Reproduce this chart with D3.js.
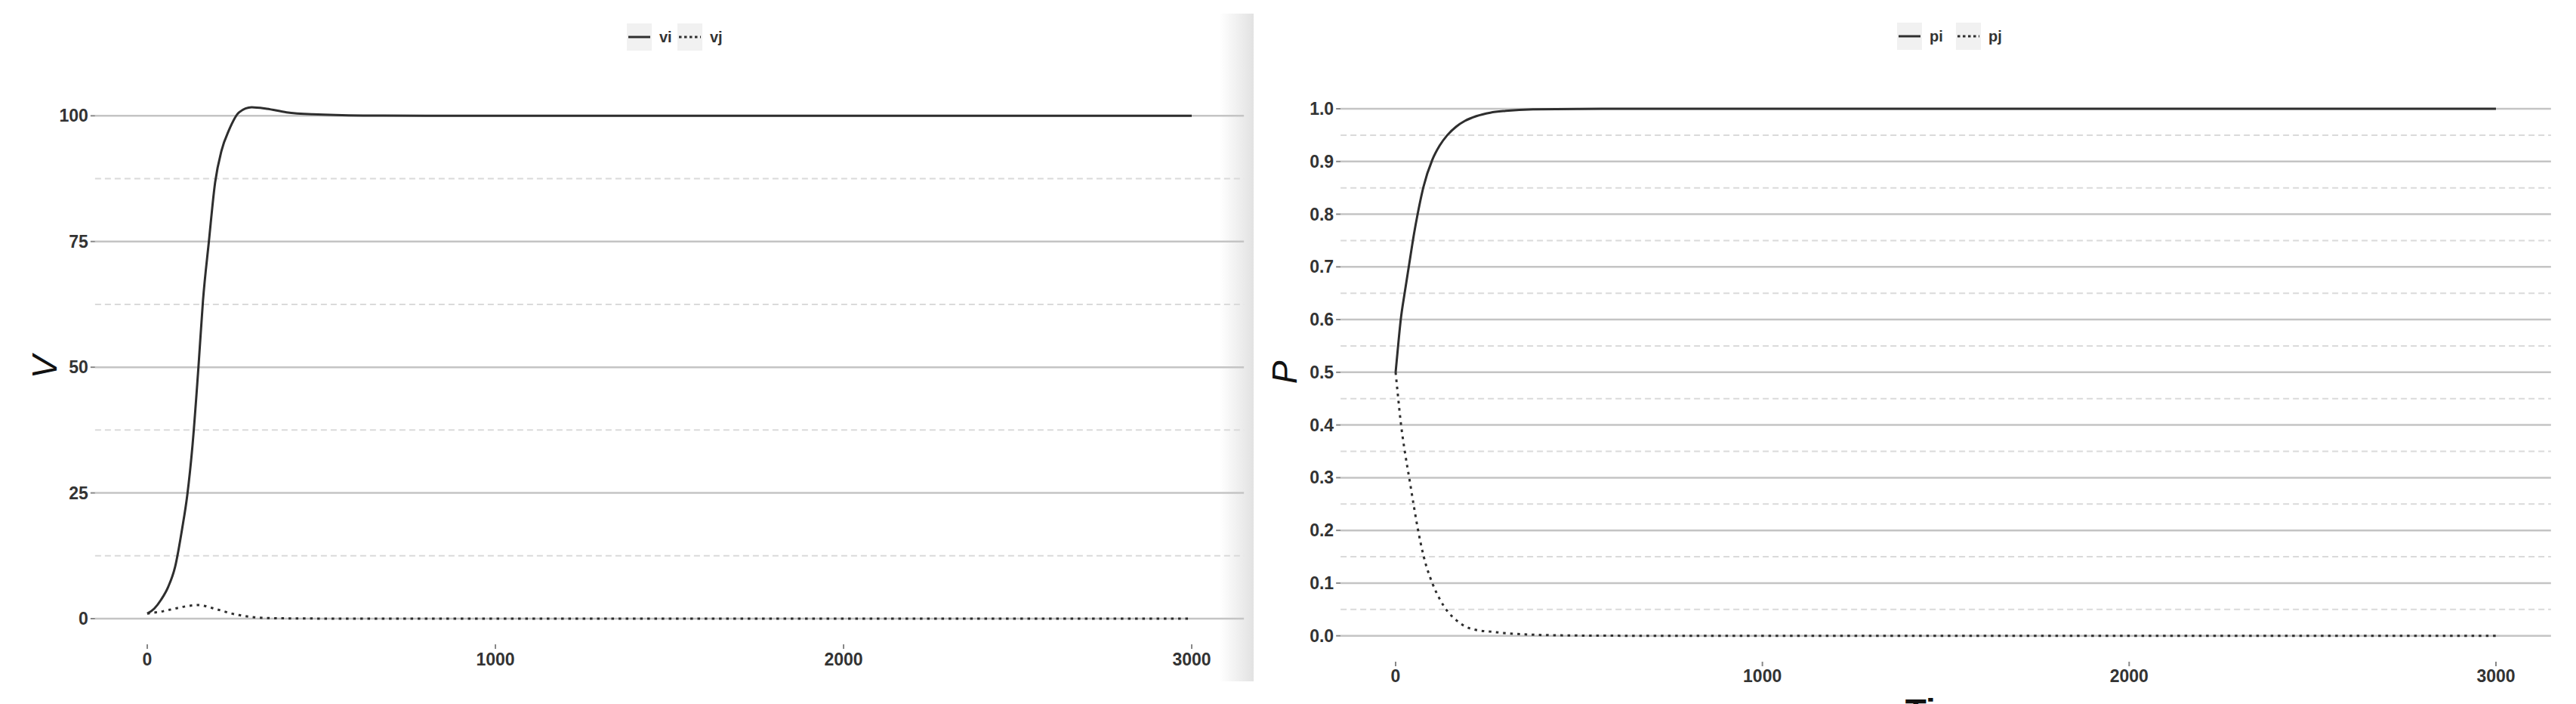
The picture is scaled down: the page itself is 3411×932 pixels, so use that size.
<!DOCTYPE html>
<html>
<head>
<meta charset="utf-8">
<script src="https://cdn.jsdelivr.net/npm/d3@7"></script>
<style>
  html, body { margin: 0; padding: 0; background: #ffffff; }
  svg { display: block; }
  .tick-label { font-family: "Liberation Sans Narrow", "Liberation Sans", Arial, sans-serif; font-weight: bold; font-size: 23px; fill: #333; }
  .axis-title { font-family: "Liberation Sans", Arial, sans-serif; font-style: italic; font-size: 46px; fill: #111; }
  .legend-label { font-family: "Liberation Sans Narrow", "Liberation Sans", Arial, sans-serif; font-weight: bold; font-size: 20px; fill: #333; }
</style>
</head>
<body>
<svg id="chart" width="3411" height="932"></svg>
<script>
// ---------------- DATA ----------------
// Left panel: V over time
const timeV = [0, 20, 40, 60, 80, 100, 115, 130, 147, 160, 177, 195, 213, 235, 264, 300, 343, 400, 475, 620, 800, 1000, 1500, 2000, 2500, 3000];
const vi    = [1, 2.0, 3.8, 6.3, 10.3, 17.8, 24.6, 34.5, 50, 63.2, 75, 86.8, 93, 97.2, 100.7, 101.7, 101.4, 100.7, 100.3, 100.05, 100, 100, 100, 100, 100, 100];
const vj    = [1, 1.2, 1.4, 1.7, 2.0, 2.3, 2.5, 2.62, 2.7, 2.6, 2.3, 1.95, 1.6, 1.15, 0.7, 0.32, 0.12, 0.05, 0.02, 0.005, 0, 0, 0, 0, 0, 0];
const vTicks = [0, 25, 50, 75, 100];
const vMinor = [12.5, 37.5, 62.5, 87.5];

// Right panel: P over time
const timeP = [0, 5, 14, 25, 37, 50, 60, 76, 100, 120, 141, 165, 189, 220, 258, 300, 375, 500, 700, 1000, 1500, 2000, 2500, 3000];
const pi    = [0.5, 0.537, 0.6, 0.652, 0.705, 0.762, 0.8, 0.852, 0.903, 0.93, 0.95, 0.966, 0.977, 0.986, 0.9925, 0.996, 0.999, 0.9998, 1, 1, 1, 1, 1, 1];
const pj    = [0.5, 0.465, 0.405, 0.35, 0.3, 0.245, 0.205, 0.152, 0.1, 0.07, 0.047, 0.03, 0.018, 0.011, 0.008, 0.005, 0.002, 0.0005, 0, 0, 0, 0, 0, 0];
const pTicks = [0, 0.1, 0.2, 0.3, 0.4, 0.5, 0.6, 0.7, 0.8, 0.9, 1.0];
const pMinor = [0.05, 0.15, 0.25, 0.35, 0.45, 0.55, 0.65, 0.75, 0.85, 0.95];

const timeTicks = [0, 1000, 2000, 3000];
const seriesV = ["vi", "vj"];
const seriesP = ["pi", "pj"];
const xTitle = "Time";

// ---------------- DRAW ----------------
const svg = d3.select("#chart");

// separator shading at the right edge of the left image
const defs = svg.append("defs");
const grad = defs.append("linearGradient").attr("id", "shade").attr("x1", "0%").attr("x2", "100%");
grad.append("stop").attr("offset", "0%").attr("stop-color", "#ffffff");
grad.append("stop").attr("offset", "100%").attr("stop-color", "#e2e2e2");
svg.append("rect").attr("x", 1615).attr("y", 18).attr("width", 45).attr("height", 884).attr("fill", "url(#shade)");

function panel(cfg) {
  const g = svg.append("g");
  const x = d3.scaleLinear().domain([-150, 3150]).range(cfg.xRange);
  const y = d3.scaleLinear().domain(cfg.yDomain).range(cfg.yRange);
  const [xl, xr] = cfg.xRange;

  // minor gridlines
  g.selectAll(".minor").data(cfg.minor).join("line")
    .attr("x1", xl).attr("x2", xr)
    .attr("y1", d => y(d)).attr("y2", d => y(d))
    .attr("stroke", "#dadada").attr("stroke-width", 2).attr("stroke-dasharray", "8,5");

  // major gridlines
  g.selectAll(".major").data(cfg.ticks).join("line")
    .attr("x1", xl).attr("x2", xr)
    .attr("y1", d => y(d)).attr("y2", d => y(d))
    .attr("stroke", "#c4c4c4").attr("stroke-width", 2.5);

  // y axis ticks + labels
  g.selectAll(".ytick").data(cfg.ticks).join("line")
    .attr("x1", xl - 6).attr("x2", xl)
    .attr("y1", d => y(d)).attr("y2", d => y(d))
    .attr("stroke", "#888").attr("stroke-width", 2);
  g.selectAll(".ylab").data(cfg.ticks).join("text")
    .attr("class", "tick-label")
    .attr("x", xl - 9).attr("y", d => y(d) + 8)
    .attr("text-anchor", "end")
    .text(cfg.fmt);

  // x axis ticks + labels
  g.selectAll(".xtick").data(timeTicks).join("line")
    .attr("x1", d => x(d)).attr("x2", d => x(d))
    .attr("y1", cfg.xAxisY).attr("y2", cfg.xAxisY + 6)
    .attr("stroke", "#888").attr("stroke-width", 2);
  g.selectAll(".xlab").data(timeTicks).join("text")
    .attr("class", "tick-label")
    .attr("x", d => x(d)).attr("y", cfg.xLabelY)
    .attr("text-anchor", "middle")
    .text(d => d3.format("d")(d));

  // lines
  const line = d3.line().x(d => x(d[0])).y(d => y(d[1])).curve(d3.curveMonotoneX);
  cfg.series.forEach((s, i) => {
    const pts = cfg.time.map((t, k) => [t, s.values[k]]);
    g.append("path").datum(pts)
      .attr("d", line)
      .attr("fill", "none")
      .attr("stroke", "#2e2e2e")
      .attr("stroke-width", 3)
      .attr("stroke-linecap", "butt")
      .attr("stroke-dasharray", i === 0 ? null : "3.5,6");
  });

  // y title
  g.append("text").attr("class", "axis-title")
    .attr("transform", `translate(${cfg.titlePos[0]},${cfg.titlePos[1]}) rotate(-90)`)
    .attr("text-anchor", "middle")
    .text(cfg.title);

  // legend
  const lg = g.append("g");
  cfg.legend.forEach((item, i) => {
    const kx = item.x;
    lg.append("rect").attr("x", kx).attr("y", cfg.legendY - 18).attr("width", 33).attr("height", 36)
      .attr("fill", "#f1f1f1");
    lg.append("line").attr("x1", kx + 2).attr("x2", kx + 31)
      .attr("y1", cfg.legendY).attr("y2", cfg.legendY)
      .attr("stroke", "#2e2e2e").attr("stroke-width", 3)
      .attr("stroke-dasharray", i === 0 ? null : "3.5,3.5");
    lg.append("text").attr("class", "legend-label")
      .attr("x", kx + 43).attr("y", cfg.legendY + 7)
      .text(item.name);
  });
  return { x, y };
}

panel({
  xRange: [125.85, 1647.15],
  yDomain: [0, 100], yRange: [819, 153.3],
  ticks: vTicks, minor: vMinor, fmt: d => d3.format("d")(d),
  xAxisY: 853, xLabelY: 881,
  time: timeV,
  series: [{ values: vi }, { values: vj }],
  title: "V", titlePos: [75, 486],
  legendY: 49,
  legend: [{ name: seriesV[0], x: 830 }, { name: seriesV[1], x: 897 }]
});

panel({
  xRange: [1775.15, 3377.85],
  yDomain: [0, 1], yRange: [841.7, 144],
  ticks: pTicks, minor: pMinor, fmt: d => d3.format(".1f")(d),
  xAxisY: 876, xLabelY: 903,
  time: timeP,
  series: [{ values: pi }, { values: pj }],
  title: "P", titlePos: [1717, 493],
  legendY: 48,
  legend: [{ name: seriesP[0], x: 2512 }, { name: seriesP[1], x: 2590 }]
});

// x-axis title of right panel (cut off at the bottom of the picture)
svg.append("text").attr("class", "axis-title")
  .style("font-style", "normal").style("font-weight", "bold")
  .attr("x", 2576).attr("y", 958)
  .attr("text-anchor", "middle")
  .text(xTitle);
</script>
</body>
</html>
